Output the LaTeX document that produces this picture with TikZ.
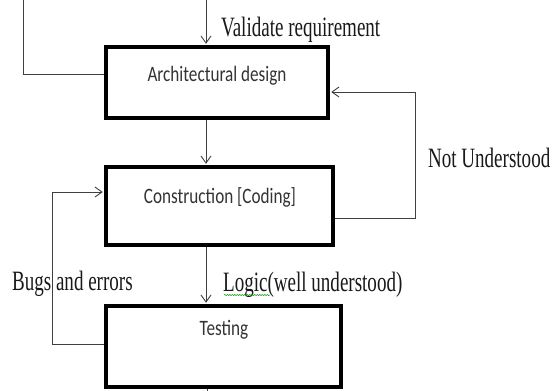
\documentclass[tikz,border=0pt]{standalone}
\usepackage{fontspec}
\setmainfont{Liberation Serif}
\newfontfamily\boxfont{Carlito}
\usetikzlibrary{arrows.meta,decorations.pathmorphing}

\begin{document}
\begin{tikzpicture}[x=1pt,y=-1pt,
	stage/.style={draw=black, line width=3.5pt, shape=rectangle, inner sep=0pt},
	stagetext/.style={font=\boxfont\fontsize{22}{22}\selectfont, text=black!80, xscale=0.78, transform shape, inner sep=0pt, anchor=base},
	note/.style={font=\fontsize{28}{28}\selectfont, text=black!90, xscale=0.68, transform shape, inner sep=0pt, anchor=base west},
	wire/.style={draw=black!75, line width=0.9pt},
	flow/.style={wire, shorten >=1.5pt, -{Straight Barb[length=7pt,width=10pt]}}]

	\useasboundingbox (0,0) rectangle (555,391);

	\node[stage, minimum width=222pt, minimum height=71pt] (arch)   at (217,82.5)  {};
	\node[stage, minimum width=227pt, minimum height=78pt] (constr) at (219.5,206) {};
	\node[stage, minimum width=235pt, minimum height=81pt] (test)   at (223.5,346.5) {};

	\node[stagetext] (archtext)   at (217,81)  {Architectural design};
	\node[stagetext] (constrtext) at (220,203) {Construction [Coding]};
	\node[stagetext] (testtext)   at (224,335) {Testing};

	\node[note] (validate) at (221,36)  {Validate requirement};
	\node[note] (notund)   at (428,167) {Not Understood};
	\node[note] (bugs)     at (12,290)  {Bugs and errors};
	\node[note] (logic)    at (223,291) {Logic(well understood)};

	\coordinate (in)    at (206,0);
	\coordinate (out)   at (207,391);
	\coordinate (ltop)  at (23,0);
	\coordinate (lbend) at (23,74);
	\coordinate (rlow)  at (415,218);
	\coordinate (rhigh) at (415,92);
	\coordinate (llow)  at (52,344);
	\coordinate (lhigh) at (52,192);

	\draw [flow] (in) -- (arch.north -| in);
	\draw [flow] (arch.south -| in) -- (constr.north -| in);
	\draw [flow] (constr.south -| in) -- (test.north -| in);
	\draw [wire] (test.south -| out) -- (out);

	\draw [wire] (ltop) -- (lbend) -- (lbend -| arch.west);
	\draw [flow] (rlow -| constr.east) -- (rlow) -- (rhigh) -- (rhigh -| arch.east);
	\draw [flow] (llow -| test.west) -- (llow) -- (lhigh) -- (lhigh -| constr.west);

	\draw [green!55!black, line width=0.5pt, decorate, decoration={snake, amplitude=0.6pt, segment length=2.5pt}] (224,295) -- (270,295);
\end{tikzpicture}
\end{document}
